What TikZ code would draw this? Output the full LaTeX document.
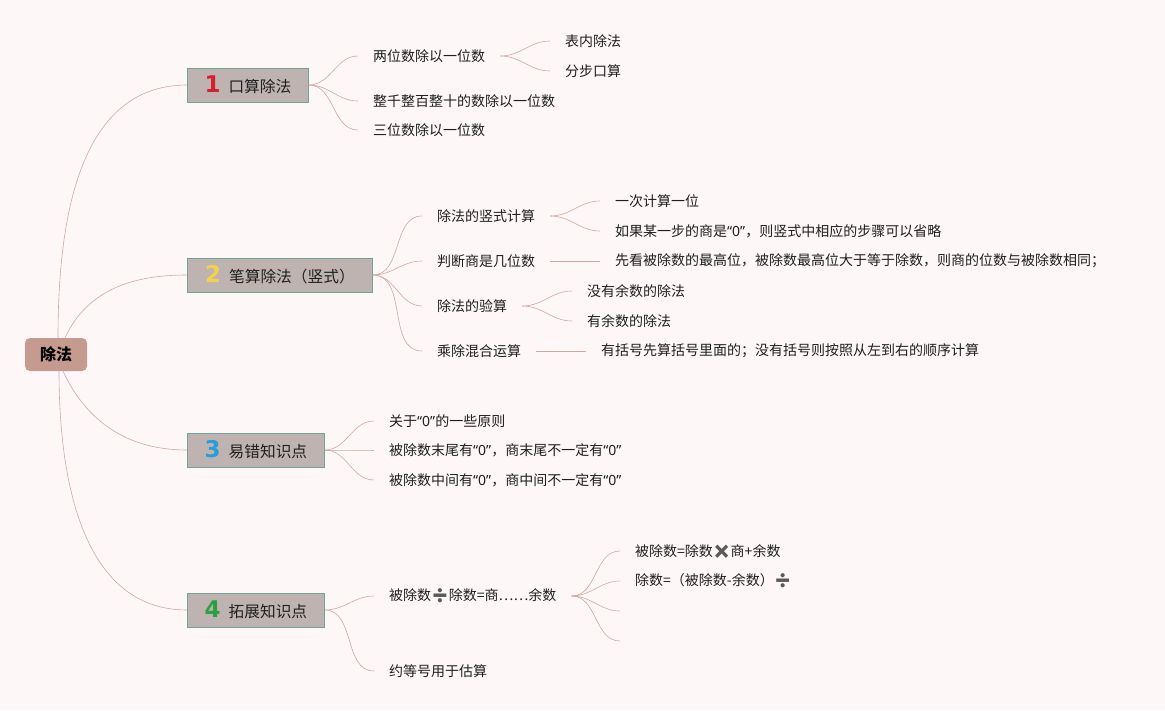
\documentclass[tikz,border=0pt]{standalone}
\usepackage{fontspec}
\setmainfont{Noto Sans CJK SC}
\newfontfamily\numfont{DejaVu Sans}
\newfontfamily\latinq{Noto Sans}
\newfontfamily\emo{Noto Emoji}
\definecolor{bgc}{HTML}{FDF7F7}
\definecolor{linkc}{HTML}{CCA9A2}
\definecolor{boxfill}{HTML}{BEB3B1}
\definecolor{boxborder}{HTML}{6FA596}
\definecolor{rootfill}{HTML}{C69B8F}
\definecolor{nred}{HTML}{D6202E}
\definecolor{nyellow}{HTML}{F2D24A}
\definecolor{nblue}{HTML}{2A9BDB}
\definecolor{ngreen}{HTML}{2BA043}
\definecolor{symc}{HTML}{5A5A5A}
\newcommand{\dvd}{{\emo\color{symc}\char"2797}}
\newcommand{\tms}{{\emo\color{symc}\char"2716}}
\newcommand{\qz}{{\latinq “0”}}
\begin{document}
\begin{tikzpicture}[x=1pt,y=-1pt,
  leaf/.style={anchor=west, inner xsep=15pt, inner ysep=2pt, font=\fontsize{14}{16}\selectfont, text=black!88},
  mainbox/.style={draw=boxborder, fill=boxfill, line width=0.8pt, minimum height=34pt, anchor=west, inner sep=0pt, font=\fontsize{15.7}{18}\selectfont, text=black!88},
  rootbox/.style={fill=rootfill, rounded corners=5pt, minimum width=62pt, minimum height=33pt, inner sep=0pt, font=\fontsize{16}{18}\selectfont\bfseries},
  link/.style={draw=linkc, line width=0.6pt}
]
\fill[bgc] (0,0) rectangle (1165,710);
\useasboundingbox (0,0) rectangle (1165,710);

% root
\node[rootbox] (root) at (56,354.5) {除法};

% main boxes
\node[mainbox, minimum width=121pt] (b1) at (187,85) {{\numfont\bfseries\fontsize{23}{24}\selectfont\color{nred}1}\hspace{8pt}口算除法};
\node[mainbox, minimum width=185pt] (b2) at (187,275) {{\numfont\bfseries\fontsize{23}{24}\selectfont\color{nyellow}2}\hspace{8pt}笔算除法（竖式）};
\node[mainbox, minimum width=137pt] (b3) at (187,450) {{\numfont\bfseries\fontsize{23}{24}\selectfont\color{nblue}3}\hspace{8pt}易错知识点};
\node[mainbox, minimum width=137pt] (b4) at (187,610) {{\numfont\bfseries\fontsize{23}{24}\selectfont\color{ngreen}4}\hspace{8pt}拓展知识点};

% root links
\draw[link] ([xshift=2pt]root.north) to[out=90,in=180] (b1.west);
\draw[link] ([xshift=9pt]root.north) to[out=65,in=180] (b2.west);
\draw[link] ([xshift=7pt]root.south) to[out=-65,in=180] (b3.west);
\draw[link] ([xshift=3pt]root.south) to[out=-90,in=180] (b4.west);

% box 1
\node[leaf] (n11) at (358,56) {两位数除以一位数};
\node[leaf] (n12) at (358,101) {整千整百整十的数除以一位数};
\node[leaf] (n13) at (358,130) {三位数除以一位数};
\node[leaf] (n111) at (550,41) {表内除法};
\node[leaf] (n112) at (550,71) {分步口算};
\foreach \c in {n11,n12,n13} \draw[link] (b1.east) to[out=0,in=180] (\c.west);
\foreach \c in {n111,n112} \draw[link] (n11.east) to[out=0,in=180] (\c.west);

% box 2
\node[leaf] (n21) at (422,216) {除法的竖式计算};
\node[leaf] (n22) at (422,261) {判断商是几位数};
\node[leaf] (n23) at (422,306) {除法的验算};
\node[leaf] (n24) at (422,351) {乘除混合运算};
\node[leaf] (n211) at (600,201) {一次计算一位};
\node[leaf] (n212) at (600,231) {如果某一步的商是\qz，则竖式中相应的步骤可以省略};
\node[leaf] (n221) at (600,261) {先看被除数的最高位，被除数最高位大于等于除数，则商的位数与被除数相同；};
\node[leaf] (n231) at (572,291) {没有余数的除法};
\node[leaf] (n232) at (572,321) {有余数的除法};
\node[leaf] (n241) at (586,351) {有括号先算括号里面的；没有括号则按照从左到右的顺序计算};
\foreach \c in {n21,n22,n23,n24} \draw[link] (b2.east) to[out=0,in=180] (\c.west);
\foreach \c in {n211,n212} \draw[link] (n21.east) to[out=0,in=180] (\c.west);
\draw[link] (n22.east) -- (n221.west);
\foreach \c in {n231,n232} \draw[link] (n23.east) to[out=0,in=180] (\c.west);
\draw[link] (n24.east) -- (n241.west);

% box 3
\node[leaf] (n31) at (374,421) {关于\qz 的一些原则};
\node[leaf] (n32) at (374,450) {被除数末尾有\qz，商末尾不一定有\qz};
\node[leaf] (n33) at (374,480) {被除数中间有\qz，商中间不一定有\qz};
\foreach \c in {n31,n32,n33} \draw[link] (b3.east) to[out=0,in=180] (\c.west);

% box 4
\node[leaf] (n41) at (374,596) {被除数\dvd 除数=商……余数};
\node[leaf] (n42) at (374,671) {约等号用于估算};
\node[leaf] (n411) at (620,551) {被除数=除数\tms 商+余数};
\node[leaf] (n412) at (620,581) {除数=（被除数-余数）\dvd};
\coordinate (c413) at (620,611);
\coordinate (c414) at (620,641);
\foreach \c in {n41,n42} \draw[link] (b4.east) to[out=0,in=180] (\c.west);
\foreach \c in {n411,n412} \draw[link] (n41.east) to[out=0,in=180] (\c.west);
\foreach \c in {c413,c414} \draw[link] (n41.east) to[out=0,in=180] (\c);
\end{tikzpicture}
\end{document}
